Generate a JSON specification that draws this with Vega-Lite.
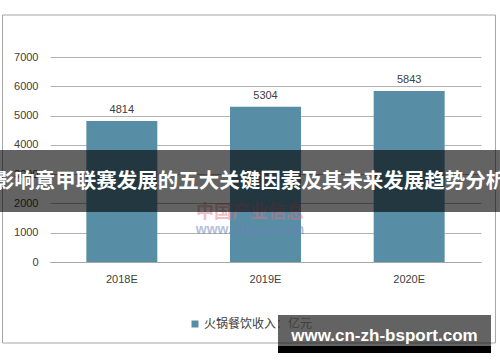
{
  "$schema": "https://vega.github.io/schema/vega-lite/v6.json",
  "width": 431,
  "height": 205,
  "autosize": {"type": "none"},
  "padding": {"left": 50, "top": 57, "right": 19, "bottom": 100},
  "background": "white",
  "config": {
    "view": {"stroke": null},
    "font": "Liberation Sans",
    "axisY": {"ticks": false, "domain": false, "gridColor": "#b3b3b3", "labelFontSize": 11, "labelColor": "#404040", "labelPadding": 12, "format": "d"}
  },
  "datasets": {
    "bars": [
      {"year": "2018E", "value": 4814, "series": "火锅餐饮收入：亿元"},
      {"year": "2019E", "value": 5304, "series": "火锅餐饮收入：亿元"},
      {"year": "2020E", "value": 5843, "series": "火锅餐饮收入：亿元"}
    ],
    "one": [{"k": 1}]
  },
  "layer": [
    {
      "data": {"name": "bars"},
      "mark": {"type": "bar"},
      "encoding": {
        "x": {
          "field": "year", "type": "nominal",
          "scale": {"paddingInner": 0.506, "paddingOuter": 0.253},
          "axis": {"title": null, "labelAngle": 0, "ticks": false, "domainColor": "#a6a6a6", "labelFontSize": 11, "labelColor": "#404040", "labelPadding": 11}
        },
        "y": {
          "field": "value", "type": "quantitative",
          "scale": {"domain": [0, 7000], "nice": false},
          "title": null,
          "axis": {"values": [0, 1000, 2000, 3000, 4000, 5000, 6000, 7000], "format": "d"}
        },
        "color": {
          "field": "series", "type": "nominal",
          "scale": {"range": ["#588ea5"]},
          "legend": {"title": null, "orient": "none", "legendX": 139, "legendY": 261, "symbolType": "square", "symbolSize": 49, "symbolStrokeWidth": 0, "labelFontSize": 12, "labelColor": "#404040", "labelFont": "Noto Sans CJK SC", "labelOffset": 3}
        }
      }
    },
    {
      "data": {"name": "one"},
      "mark": {"type": "rect", "fill": null, "stroke": "#a6a6a6", "strokeWidth": 1},
      "encoding": {
        "x": {"datum": -0.1102, "type": "quantitative", "scale": {"domain": [0, 1]}, "axis": null},
        "x2": {"datum": 1.0336},
        "y": {"datum": 8434, "type": "quantitative", "scale": {"domain": [0, 7000], "nice": false}, "title": null, "axis": {"values": [0, 1000, 2000, 3000, 4000, 5000, 6000, 7000], "format": "d"}},
        "y2": {"datum": -2766}
      }
    },
    {
      "data": {"name": "bars"},
      "mark": {"type": "text", "baseline": "bottom", "dy": -6, "fontSize": 11, "color": "#404040"},
      "encoding": {
        "x": {"field": "year", "type": "nominal", "scale": {"paddingInner": 0.506, "paddingOuter": 0.253}, "axis": null},
        "y": {"field": "value", "type": "quantitative", "scale": {"domain": [0, 7000], "nice": false}, "title": null, "axis": {"values": [0, 1000, 2000, 3000, 4000, 5000, 6000, 7000], "format": "d"}},
        "text": {"field": "value", "type": "quantitative", "format": "d"}
      }
    },
    {
      "data": {"values": [{"label": "中国产业信息"}]},
      "mark": {"type": "text", "baseline": "middle", "align": "center", "fontSize": 18, "fontWeight": "bold", "font": "Noto Sans CJK SC", "color": "#e07080", "opacity": 0.45},
      "encoding": {
        "x": {"datum": 0.464, "type": "quantitative", "scale": {"domain": [0, 1]}, "axis": null},
        "y": {"datum": 1673, "type": "quantitative", "scale": {"domain": [0, 7000], "nice": false}, "title": null, "axis": {"values": [0, 1000, 2000, 3000, 4000, 5000, 6000, 7000], "format": "d"}},
        "text": {"field": "label"}
      }
    },
    {
      "data": {"values": [{"label": "www.chyxx.com"}]},
      "mark": {"type": "text", "baseline": "middle", "align": "center", "fontSize": 14, "fontWeight": "bold", "color": "#6f7fb8", "opacity": 0.5},
      "encoding": {
        "x": {"datum": 0.464, "type": "quantitative", "scale": {"domain": [0, 1]}, "axis": null},
        "y": {"datum": 1093, "type": "quantitative", "scale": {"domain": [0, 7000], "nice": false}, "title": null, "axis": {"values": [0, 1000, 2000, 3000, 4000, 5000, 6000, 7000], "format": "d"}},
        "text": {"field": "label"}
      }
    },
    {
      "data": {"name": "one"},
      "mark": {"type": "rect", "fill": "black", "fillOpacity": 0.61},
      "encoding": {
        "x": {"datum": -0.116, "type": "quantitative", "scale": {"domain": [0, 1]}, "axis": null},
        "x2": {"datum": 1.044},
        "y": {"datum": 3824, "type": "quantitative", "scale": {"domain": [0, 7000], "nice": false}, "title": null, "axis": {"values": [0, 1000, 2000, 3000, 4000, 5000, 6000, 7000], "format": "d"}},
        "y2": {"datum": 1707}
      }
    },
    {
      "data": {"values": [{"label": "影响意甲联赛发展的五大关键因素及其未来发展趋势分析"}]},
      "mark": {"type": "text", "baseline": "middle", "align": "center", "fontSize": 20.5, "fontWeight": "bold", "font": "Noto Sans CJK SC", "color": "white"},
      "encoding": {
        "x": {"datum": 0.464, "type": "quantitative", "scale": {"domain": [0, 1]}, "axis": null},
        "y": {"datum": 2732, "type": "quantitative", "scale": {"domain": [0, 7000], "nice": false}, "title": null, "axis": {"values": [0, 1000, 2000, 3000, 4000, 5000, 6000, 7000], "format": "d"}},
        "text": {"field": "label"}
      }
    },
    {
      "data": {"name": "one"},
      "mark": {"type": "rect", "fill": "black", "fillOpacity": 0.61},
      "encoding": {
        "x": {"datum": 0.529, "type": "quantitative", "scale": {"domain": [0, 1]}, "axis": null},
        "x2": {"datum": 1.0232},
        "y": {"datum": -1810, "type": "quantitative", "scale": {"domain": [0, 7000], "nice": false}, "title": null, "axis": {"values": [0, 1000, 2000, 3000, 4000, 5000, 6000, 7000], "format": "d"}},
        "y2": {"datum": -2868}
      }
    },
    {
      "data": {"name": "one"},
      "mark": {"type": "rect", "fill": "black"},
      "encoding": {
        "x": {"datum": 0.529, "type": "quantitative", "scale": {"domain": [0, 1]}, "axis": null},
        "x2": {"datum": 1.0232},
        "y": {"datum": -2868, "type": "quantitative", "scale": {"domain": [0, 7000], "nice": false}, "title": null, "axis": {"values": [0, 1000, 2000, 3000, 4000, 5000, 6000, 7000], "format": "d"}},
        "y2": {"datum": -3107}
      }
    },
    {
      "data": {"values": [{"label": "www.cn-zh-bsport.com"}]},
      "mark": {"type": "text", "baseline": "middle", "align": "center", "fontSize": 17, "fontWeight": "bold", "color": "white"},
      "encoding": {
        "x": {"datum": 0.776, "type": "quantitative", "scale": {"domain": [0, 1]}, "axis": null},
        "y": {"datum": -2527, "type": "quantitative", "scale": {"domain": [0, 7000], "nice": false}, "title": null, "axis": {"values": [0, 1000, 2000, 3000, 4000, 5000, 6000, 7000], "format": "d"}},
        "text": {"field": "label"}
      }
    }
  ],
  "resolve": {"scale": {"x": "independent"}}
}
